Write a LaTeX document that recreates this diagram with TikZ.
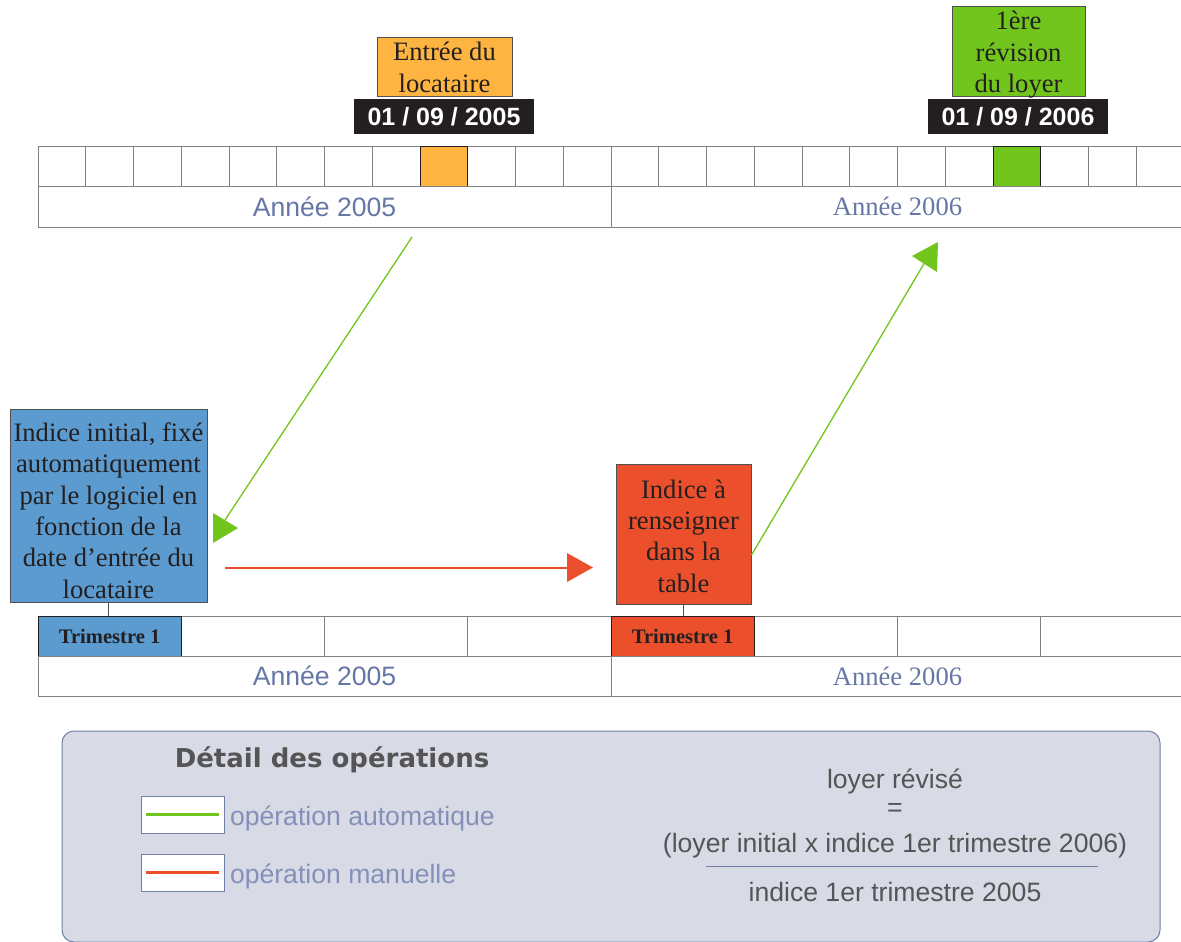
\documentclass[tikz,border=0pt]{standalone}
\usepackage{fontspec}
\setmainfont{Liberation Serif}
\setsansfont{Liberation Sans}
\newfontfamily\titlefont{DejaVu Sans}
\definecolor{orangeC}{HTML}{FDB441}
\definecolor{greenC}{HTML}{72C51C}
\definecolor{blueC}{HTML}{5B9BD0}
\definecolor{redC}{HTML}{EC4F2C}
\definecolor{darkC}{HTML}{231F20}
\definecolor{yearC}{HTML}{6677A6}
\definecolor{legFill}{HTML}{D8DAE6}
\definecolor{legBorder}{HTML}{7080A8}
\definecolor{legText}{HTML}{8590B8}
\definecolor{formC}{HTML}{555555}
\definecolor{gridC}{HTML}{808080}
\definecolor{edgeC}{HTML}{505050}
\begin{document}
\begin{tikzpicture}[x=1pt,y=-1pt,
  every node/.style={inner sep=0pt, outer sep=0pt},
  big/.style={font=\fontsize{26.6}{31.4}\selectfont},
  sansbig/.style={font=\fontsize{26.6}{31}\selectfont\sffamily},
  cell/.style={draw=gridC, line width=1pt, minimum width=47.75pt, minimum height=40pt, anchor=north west},
  qcell/.style={draw=gridC, line width=1pt, minimum width=143.25pt, minimum height=40pt, anchor=north west},
  yearcell/.style={draw=gridC, line width=1pt, minimum width=573pt, minimum height=41pt, anchor=north west, text=yearC, big},
  infobox/.style={draw=edgeC, line width=0.8pt},
  boxtxt/.style={align=center, text=darkC, big},
  datebox/.style={fill=darkC, text=white, minimum width=180pt, minimum height=35pt, font=\fontsize{25}{30}\selectfont\sffamily\bfseries},
  trim/.style={draw=darkC, line width=1pt, text=darkC, font=\fontsize{20.6}{24}\selectfont\bfseries},
  auto/.style={greenC, line width=1.3pt},
  manu/.style={redC, line width=1.3pt},
  legsample/.style={draw=legBorder, fill=white, line width=0.8pt, minimum width=83pt, minimum height=37pt, anchor=north west},
  legtext/.style={anchor=west, text=legText, sansbig},
  formula/.style={text=formC, sansbig}
]
\useasboundingbox (0,0) rectangle (1181,942);

% top timeline: months
\foreach \i in {0,...,23}
  \node[cell] (m\i) at ({38+47.75*\i},146) {};
\node[cell, fill=orangeC, draw=darkC] (sep05) at (420,146) {};
\node[cell, fill=greenC, draw=darkC] (sep06) at (993,146) {};
\node[yearcell, sansbig] (ya05) at (38,186) {Année 2005};
\node[yearcell] (ya06) at (611,186) {Année 2006};

% top labels
\node[infobox, fill=orangeC, minimum width=135pt, minimum height=59pt] (entree) at (444.5,66.5) {};
\node[boxtxt] (entreeT) at ([yshift=-1pt]entree.center) {Entrée du\\locataire};
\node[datebox] (date1) at (444,116.5) {01 / 09 / 2005};
\node[infobox, fill=greenC, minimum width=133pt, minimum height=90pt] (revision) at (1018.5,51) {};
\node[boxtxt] (revisionT) at ([yshift=-4pt]revision.center) {1ère\\révision\\du loyer};
\node[datebox] (date2) at (1018,116.5) {01 / 09 / 2006};

% bottom timeline: quarters
\foreach \i in {0,...,7}
  \node[qcell] (q\i) at ({38+143.25*\i},616) {};
\node[qcell, trim, fill=blueC] (t05) at (38,616) {Trimestre 1};
\node[qcell, trim, fill=redC] (t06) at (611,616) {Trimestre 1};
\node[yearcell, minimum height=40pt, sansbig] (yb05) at (38,656) {Année 2005};
\node[yearcell, minimum height=40pt] (yb06) at (611,656) {Année 2006};

% boxes
\node[infobox, fill=blueC, minimum width=197pt, minimum height=193pt] (initial) at (108.5,505.5) {};
\node[boxtxt] (initialT) at ([yshift=-5pt]initial.center)
  {Indice initial, fixé\\automatiquement\\par le logiciel en\\fonction de la\\date d’entrée du\\locataire};
\node[infobox, fill=redC, minimum width=135pt, minimum height=140pt] (rens) at (683.5,534) {};
\node[boxtxt] (rensT) at ([yshift=-2pt]rens.center) {Indice à\\renseigner\\dans la\\table};
\draw[edgeC, line width=1pt] (initial.south) -- (initial.south |- t05.north);
\draw[edgeC, line width=1pt] (rens.south) -- (rens.south |- t06.north);

% connectors
\coordinate (g1s) at (412,237);
\coordinate (g1e) at (225,520);
\draw[auto] (g1s) -- (g1e);
\fill[greenC] (213,513) -- (238,528) -- (213,543) -- cycle;

\coordinate (r1s) at (225,568);
\coordinate (r1e) at (570,568);
\draw[manu] (r1s) -- (r1e);
\fill[redC] (567,553) -- (593,567.5) -- (567,582) -- cycle;

\coordinate (g2s) at (751.5,555);
\coordinate (g2e) at (925,262);
\draw[auto] (g2s) -- (g2e);
\fill[greenC] (938,242) -- (912,256) -- (937,272) -- cycle;

% legend
\node[draw=legBorder, fill=legFill, line width=1pt, rounded corners=12pt, minimum width=1098pt, minimum height=211pt, anchor=north west] (legend) at (62,731) {};
\node[text=formC, font=\fontsize{26}{31}\selectfont\titlefont\bfseries] (title) at (332,760) {Détail des opérations};
\node[legsample] (legA) at (141,796) {};
\draw[greenC, line width=2.5pt] ([xshift=5pt]legA.west) -- ([xshift=-5pt]legA.east);
\node[legtext] (legAt) at (230,818) {opération automatique};
\node[legsample] (legM) at (141,854) {};
\draw[redC, line width=2.5pt] ([xshift=5pt]legM.west) -- ([xshift=-5pt]legM.east);
\node[legtext] (legMt) at (230,876) {opération manuelle};

\node[formula] (f1) at (895,781) {loyer révisé};
\node[formula] (f2) at (895,810) {=};
\node[formula] (f3) at (895,846) {(loyer initial x indice 1er trimestre 2006)};
\coordinate (fl) at (706,866);
\coordinate (fr) at (1098,866);
\draw[legBorder, line width=1pt] (fl) -- (fr);
\node[formula] (f4) at (895,892) {indice 1er trimestre 2005};
\end{tikzpicture}
\end{document}
